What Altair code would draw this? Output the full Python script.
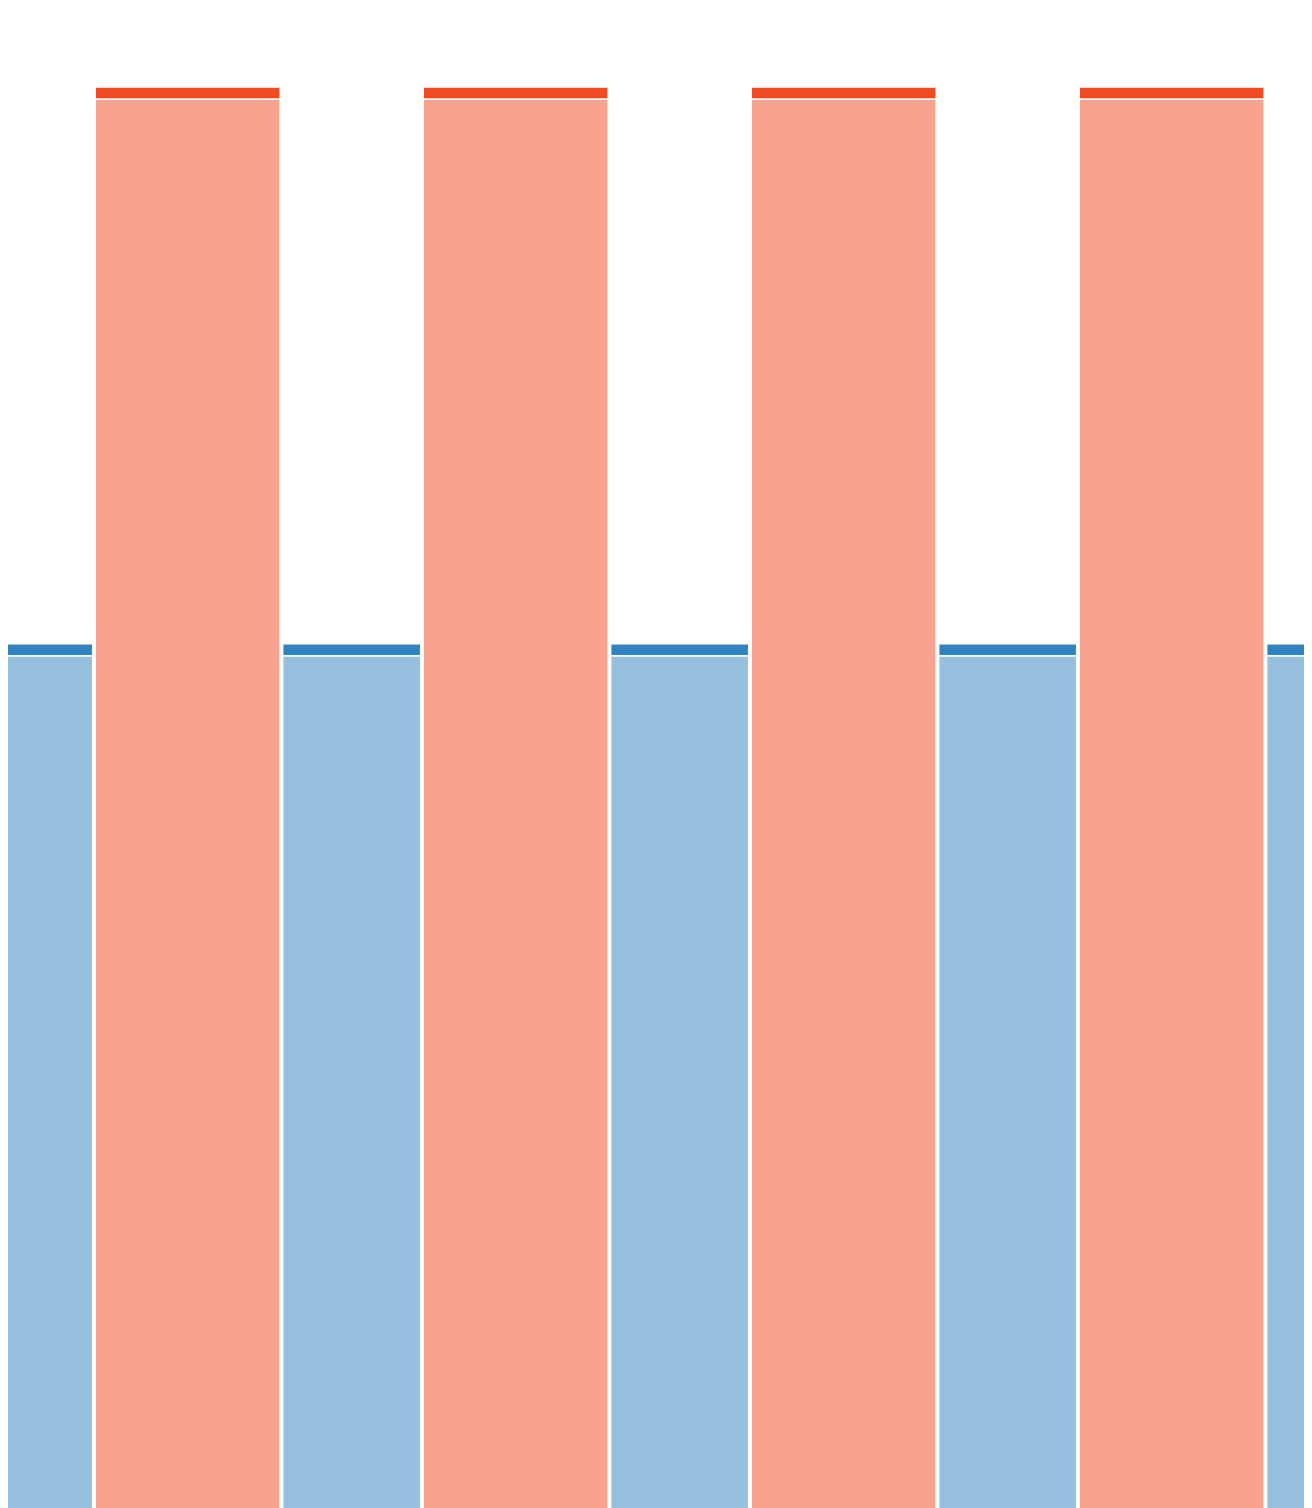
import altair as alt
import pandas as pd

# Column extents (data units) and series per column
col_start = [0, 3, 7, 10, 14, 17, 21, 24, 28]
col_end = [3, 7, 10, 14, 17, 21, 24, 28, 31]
series = ["blue", "red", "blue", "red", "blue", "red", "blue", "red", "blue"]
values = [86.5, 142.1, 86.5, 142.1, 86.5, 142.1, 86.5, 142.1, 86.5]
band_size = 1.2

rows = []
for s, e, g, v in zip(col_start, col_end, series, values):
    rows.append({"x": s, "x2": e, "series": g, "part": "body", "y": 0, "y2": v - band_size})
    rows.append({"x": s, "x2": e, "series": g, "part": "band", "y": v - band_size, "y2": v})
df = pd.DataFrame(rows)

xs = alt.Scale(domain=[1.165, 28.824], nice=False, zero=False)
ys = alt.Scale(domain=[0.2, 150], nice=False, zero=False)
cs = alt.Scale(domain=["blue", "red"], range=["#3182c0", "#f04a22"])

base = alt.Chart(df).encode(
    x=alt.X("x:Q", scale=xs, axis=None),
    x2="x2:Q",
    y=alt.Y("y:Q", scale=ys, axis=None),
    y2="y2:Q",
    color=alt.Color("series:N", scale=cs, legend=None),
)

body = base.transform_filter(alt.datum.part == "body").mark_rect(
    opacity=0.5, stroke="white", strokeWidth=1.5, strokeOpacity=1,
    xOffset=1.25, x2Offset=-1.25, clip=True
)
band = base.transform_filter(alt.datum.part == "band").mark_rect(
    opacity=1, stroke="white", strokeWidth=1.5,
    xOffset=1.25, x2Offset=-1.25, clip=True
)

chart = alt.layer(body, band).properties(
    width=1296, height=1500, padding=0,
    autosize=alt.AutoSizeParams(type="none"),
    background="white",
).configure_view(stroke=None)

chart.save("out.html", embed_options={"renderer": "svg", "actions": False})
